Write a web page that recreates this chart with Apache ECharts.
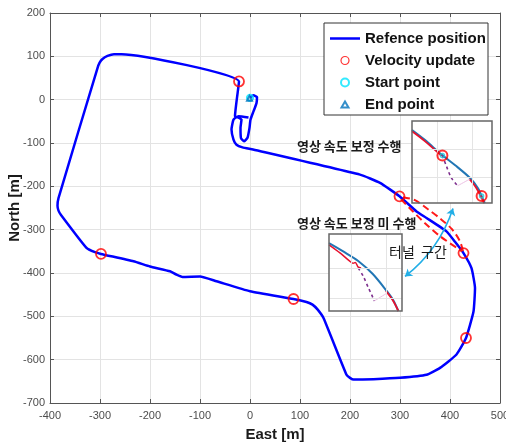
<!DOCTYPE html>
<html>
<head>
<meta charset="utf-8">
<script src="https://cdn.jsdelivr.net/npm/echarts@6.0.0/dist/echarts.min.js"></script>
<style>
html,body{margin:0;padding:0;background:#fff;}
#main{width:506px;height:444px;}
</style>
</head>
<body>
<div id="main"></div>
<script>
// reference trajectory (East / North, m)
var refEast  = [0,7,14,13,7,1,-1,-5,-12,-18,-19,-17,-24,-30,-22,
    -257,-272,-285,-295,-301,-305,-383,-385,-383,-378,-327,-310,-298,
    -233,-200,-160,-147,-135,-100,-67,0,87,113,125,135,147,193,200,207,
    247,300,353,380,413,432,447,450,443,427,410,393,353,333,299,260,220,
    6,-15,-27,-33,-37,-33,-23,-3];
var refNorth = [5,10,6,-8,-27,-46,-65,-88,-96,-89,-65,-46,-41,-38,42,
    105,105,101,94,85,73,-227,-245,-256,-266,-342,-352,-356,
    -373,-385,-396,-404,-409,-408,-419,-442,-460,-467,-473,-484,-504,-635,-642,-646,
    -645,-642,-635,-619,-588,-550,-489,-435,-389,-354,-328,-304,-273,-258,-223,-192,-173,
    -115,-110,-104,-92,-69,-46,-38,-41];

// velocity update points
var velEast  = [-22,-298,87,432,427,299];
var velNorth = [42,-356,-460,-550,-354,-223];

var startEast = [0],  startNorth = [4];
var endEast   = [-1], endNorth   = [3];

// red dashed lens (tunnel section)
var dashAEast  = [302,326,350,380,424];
var dashANorth = [-230,-258,-285,-315,-350];
var dashBEast  = [306,330,356,380,404,420,426];
var dashBNorth = [-225,-232,-253,-274,-299,-327,-350];

// cyan double arrow
var arrowEast  = [406,310];
var arrowNorth = [-251,-408];

// inset 1 (local 0..100)
var in1BlueX = [0,16,37,54,72.5,82.5,89,91];
var in1BlueY = [89,77,59,46,30.5,18,4,0];
var in1RedAX = [0,16,37];
var in1RedAY = [87.5,75.5,57.5];
var in1RedBX = [72,80,86,90];
var in1RedBY = [29,19,8,0];
var in1DashX = [38,43,49,57];
var in1DashY = [58,45,31,21];
var in1PinkX = [57,72];
var in1PinkY = [21,29];
var in1MarkX = [38,87];
var in1MarkY = [58,8.5];
var in1GridX = [31,75];
var in1GridY = [65,32];

// inset 2 (local 0..100)
var in2BlueX = [0,20,40,60,79,88,95];
var in2BlueY = [88,77,65,48,26,14,0];
var in2RedAX = [0,15,28,33,36,40,44];
var in2RedAY = [86,75.5,65,62,63,57,56];
var in2RedBX = [78,88,95];
var in2RedBY = [26,13,0];
var in2DashX = [40,47,54,58.5,62];
var in2DashY = [56,45,30,21,13];
var in2PinkX = [62,79];
var in2PinkY = [13,23];
var in2GridX = [31,79];
var in2GridY = [56,17];

function pairs(xs, ys){
    var out = [];
    for(var i=0;i<xs.length;i++){
        out.push([xs[i], ys[i]]);
    }
    return out;
}

var box1 = {x:412, y:121, w:80, h:82};
var box2 = {x:329, y:234, w:73, h:77};

var axisGray = '#555';
var fontLat = 'Liberation Sans, Arial, sans-serif';
var fontKr = 'Noto Sans CJK KR, sans-serif';

function insetAxis(grid){
    return {gridIndex:grid, type:'value', min:0, max:100, show:false,
        splitLine:{show:false}};
}

function insetGridSeries(grid, gx, gy){
    var d = [];
    for(var i=0;i<gx.length;i++) d.push({xAxis:gx[i]});
    for(var j=0;j<gy.length;j++) d.push({yAxis:gy[j]});
    return {type:'line', xAxisIndex:grid+1, yAxisIndex:grid+1, data:[], z:2,
        markLine:{silent:true, symbol:'none', label:{show:false},
            lineStyle:{color:'#e4e4e4', type:'solid', width:1}, data:d}};
}

function insetLine(grid, xs, ys, color, width, type){
    return {type:'line', xAxisIndex:grid+1, yAxisIndex:grid+1, data:pairs(xs, ys),
        showSymbol:false, symbol:'none', smooth:0.3, z:4, silent:true,
        lineStyle:{color:color, width:width, type:type||'solid'}};
}

var chart = echarts.init(document.getElementById('main'));

var option = {
    animation:false,
    grid:[
        {left:50, right:6, top:13, bottom:41, containLabel:false, outerBoundsMode:'none'},
        {left:box1.x, top:box1.y, width:box1.w, height:box1.h, containLabel:false, outerBoundsMode:'none'},
        {left:box2.x, top:box2.y, width:box2.w, height:box2.h, containLabel:false, outerBoundsMode:'none'}
    ],
    legend:{
        orient:'vertical', left:329, top:31, padding:0, z:6,
        itemWidth:30, itemHeight:8, itemGap:7,
        textStyle:{fontSize:15, fontWeight:'bold', color:'#111', fontFamily:fontLat, lineHeight:14},
        data:[
            {name:'Refence position', icon:'path://M0,0M0,2.75L30,2.75L30,5.25L0,5.25ZM30,8'},
            {name:'Velocity update', itemStyle:{borderWidth:1.2}},
            {name:'Start point'},
            {name:'End point', icon:'path://M0,0M11.5,7L15,1L18.5,7ZM30,8'}
        ]
    },
    xAxis:[
        {gridIndex:0, type:'value', min:-400, max:500, interval:100,
            name:'East [m]', nameLocation:'middle', nameGap:24, nameMoveOverlap:false,
            nameTextStyle:{fontSize:15, fontWeight:'bold', color:'#1a1a1a', fontFamily:fontLat},
            axisLine:{onZero:false, lineStyle:{color:axisGray}},
            axisTick:{inside:true, length:4, lineStyle:{color:axisGray}},
            axisLabel:{color:'#4d4d4d', fontSize:11, margin:7, fontFamily:fontLat},
            splitLine:{show:true, lineStyle:{color:'#e3e3e3'}}},
        {gridIndex:0, type:'value', min:-400, max:500, interval:100, position:'top',
            axisLine:{onZero:false, lineStyle:{color:axisGray}},
            axisTick:{inside:true, length:4, lineStyle:{color:axisGray}},
            axisLabel:{show:false}, splitLine:{show:false}},
        insetAxis(1), insetAxis(2)
    ],
    yAxis:[
        {gridIndex:0, type:'value', min:-700, max:200, interval:100,
            name:'North [m]', nameLocation:'middle', nameGap:28, nameMoveOverlap:false,
            nameTextStyle:{fontSize:15, fontWeight:'bold', color:'#1a1a1a', fontFamily:fontLat},
            axisLine:{onZero:false, lineStyle:{color:axisGray}},
            axisTick:{inside:true, length:4, lineStyle:{color:axisGray}},
            axisLabel:{color:'#4d4d4d', fontSize:11, margin:5, fontFamily:fontLat},
            splitLine:{show:true, lineStyle:{color:'#e3e3e3'}}},
        {gridIndex:0, type:'value', min:-700, max:200, interval:100, position:'right',
            axisLine:{onZero:false, lineStyle:{color:axisGray}},
            axisTick:{inside:true, length:4, lineStyle:{color:axisGray}},
            axisLabel:{show:false}, splitLine:{show:false}},
        insetAxis(1), insetAxis(2)
    ],
    series:[
        {name:'Refence position', type:'line', xAxisIndex:0, yAxisIndex:0,
            data:pairs(refEast, refNorth), symbol:'none', showSymbol:false, smooth:0.15, z:2,
            lineStyle:{color:'#0000ff', width:2.5}, itemStyle:{color:'#0000ff'}},
        {name:'Dash A', type:'line', xAxisIndex:0, yAxisIndex:0, data:pairs(dashAEast, dashANorth),
            symbol:'none', smooth:0.3, z:2, lineStyle:{color:'#ff1a1a', width:2, type:[7,4]}},
        {name:'Dash B', type:'line', xAxisIndex:0, yAxisIndex:0, data:pairs(dashBEast, dashBNorth),
            symbol:'none', smooth:0.3, z:2, lineStyle:{color:'#ff1a1a', width:2, type:[7,4]}},
        {name:'Velocity update', type:'scatter', xAxisIndex:0, yAxisIndex:0,
            data:pairs(velEast, velNorth), symbol:'circle', symbolSize:10, z:3,
            itemStyle:{color:'rgba(255,255,255,0)', borderColor:'#ff0000', borderWidth:1.8}},
        {name:'Start point', type:'scatter', xAxisIndex:0, yAxisIndex:0,
            data:pairs(startEast, startNorth), symbol:'circle', symbolSize:6, z:3,
            itemStyle:{color:'rgba(255,255,255,0)', borderColor:'#00e5ff', borderWidth:2.2}},
        {name:'End point', type:'scatter', xAxisIndex:0, yAxisIndex:0,
            data:pairs(endEast, endNorth), symbol:'triangle', symbolSize:5, z:3,
            itemStyle:{color:'rgba(255,255,255,0)', borderColor:'#0072bd', borderWidth:2}},
        {type:'lines', coordinateSystem:'cartesian2d', xAxisIndex:0, yAxisIndex:0, z:3,
            symbol:['arrow','arrow'], symbolSize:7, silent:true,
            lineStyle:{color:'#22aee6', width:1.6, curveness:0.15, opacity:1},
            data:[{coords:pairs(arrowEast, arrowNorth)}]},

        // inset 1
        insetGridSeries(1, in1GridX, in1GridY),
        insetLine(1, in1BlueX, in1BlueY, '#2176b5', 2),
        insetLine(1, in1RedAX, in1RedAY, '#e8112d', 1.8),
        insetLine(1, in1RedBX, in1RedBY, '#e8112d', 1.8),
        insetLine(1, in1DashX, in1DashY, '#7e2f8e', 1.6, [3,3]),
        insetLine(1, in1PinkX, in1PinkY, '#ecc0e4', 1),
        {type:'scatter', xAxisIndex:2, yAxisIndex:2, data:pairs(in1MarkX, in1MarkY), z:5,
            symbol:'circle', symbolSize:10, silent:true,
            itemStyle:{color:'rgba(255,255,255,0)', borderColor:'#ff0000', borderWidth:2}},
        {type:'scatter', xAxisIndex:2, yAxisIndex:2, data:pairs(in1MarkX, in1MarkY), z:5,
            symbol:'circle', symbolSize:4, silent:true,
            itemStyle:{color:'rgba(255,255,255,0)', borderColor:'#1fc8d8', borderWidth:1.5}},

        // inset 2
        insetGridSeries(2, in2GridX, in2GridY),
        insetLine(2, in2BlueX, in2BlueY, '#2176b5', 2),
        insetLine(2, in2RedAX, in2RedAY, '#e8112d', 1.5),
        insetLine(2, in2RedBX, in2RedBY, '#e8112d', 1.8),
        insetLine(2, in2DashX, in2DashY, '#7e2f8e', 1.6, [3,3]),
        insetLine(2, in2PinkX, in2PinkY, '#ecc0e4', 1)
    ],
    graphic:[
        // legend frame
        {type:'rect', z:5, shape:{x:324, y:23, width:164, height:92},
            style:{fill:'#fff', stroke:'#333', lineWidth:1}},
        // inset frames
        {type:'rect', z:1, shape:{x:box1.x, y:box1.y, width:box1.w, height:box1.h}, style:{fill:'#fff'}},
        {type:'rect', z:1, shape:{x:box2.x, y:box2.y, width:box2.w, height:box2.h}, style:{fill:'#fff'}},
        {type:'rect', z:10, shape:{x:box1.x, y:box1.y, width:box1.w, height:box1.h},
            style:{fill:'none', stroke:'#666', lineWidth:1.5}},
        {type:'rect', z:10, shape:{x:box2.x, y:box2.y, width:box2.w, height:box2.h},
            style:{fill:'none', stroke:'#666', lineWidth:1.5}},
        // annotations
        {type:'text', z:10, x:297, y:146,
            style:{text:'영상 속도 보정 수행', fill:'#1a1a1a', font:'bold 13px ' + fontKr, verticalAlign:'middle'}},
        {type:'text', z:10, x:297, y:223,
            style:{text:'영상 속도 보정 미 수행', fill:'#1a1a1a', font:'bold 13px ' + fontKr, verticalAlign:'middle'}},
        {type:'text', z:10, x:389, y:252,
            style:{text:'터널  구간', fill:'#1a1a1a', font:'14px ' + fontKr, verticalAlign:'middle'}}
    ]
};

chart.setOption(option);
</script>
</body>
</html>
